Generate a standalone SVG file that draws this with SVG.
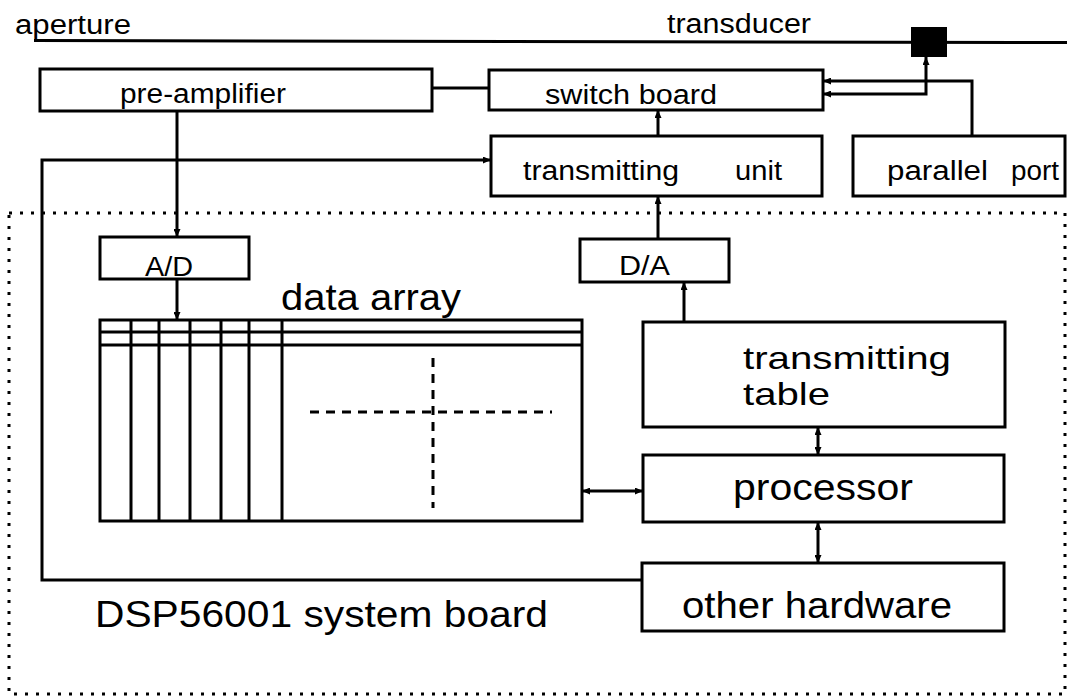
<svg xmlns="http://www.w3.org/2000/svg" width="1068" height="697" viewBox="0 0 1068 697">
<style>
.box{fill:none;stroke:#000;stroke-width:3}
.ln{fill:none;stroke:#000;stroke-width:3}
.dash{fill:none;stroke:#000;stroke-width:3;stroke-dasharray:9 7}
.dot{fill:none;stroke:#000;stroke-width:3;stroke-dasharray:3 8}
.s{font-family:"Liberation Sans",Arial,Helvetica,sans-serif;font-size:27px;fill:#000}
.b{font-family:"Liberation Sans",Arial,Helvetica,sans-serif;font-size:37px;fill:#000}
.t{font-family:"Liberation Sans",Arial,Helvetica,sans-serif;font-size:32px;fill:#000}
</style>
<defs>
<marker id="ah" viewBox="0 0 8 7" refX="8" refY="3.5" markerWidth="8" markerHeight="7" markerUnits="userSpaceOnUse" orient="auto-start-reverse">
<path d="M0,0 L8,3.5 L0,7 z" fill="#000"/>
</marker>
</defs>
<rect width="1068" height="697" fill="#fff"/>

<g id="transducer-line">
<line class="ln" x1="34" y1="40.5" x2="1067" y2="42.5"/>
<rect x="911" y="27" width="36" height="30" fill="#000"/>
<text class="s" x="15" y="34" textLength="116" lengthAdjust="spacingAndGlyphs">aperture</text>
<text class="s" x="667" y="33" textLength="144" lengthAdjust="spacingAndGlyphs">transducer</text>
</g>

<g id="board-border">
<rect class="dot" x="9" y="213" width="1056" height="481"/>
<text class="b" x="95" y="627" textLength="453" lengthAdjust="spacingAndGlyphs">DSP56001 system board</text>
</g>

<g id="pre-amplifier">
<rect class="box" x="40" y="69" width="392" height="42"/>
<text class="s" x="120" y="103" textLength="166" lengthAdjust="spacingAndGlyphs">pre-amplifier</text>
</g>

<g id="switch-board">
<rect class="box" x="489" y="70" width="334" height="40"/>
<text class="s" x="545" y="104" textLength="172" lengthAdjust="spacingAndGlyphs">switch board</text>
</g>

<g id="transmitting-unit">
<rect class="box" x="491" y="136" width="331" height="60"/>
<text class="s" x="523" y="180" textLength="156" lengthAdjust="spacingAndGlyphs">transmitting</text>
<text class="s" x="735" y="180" textLength="47" lengthAdjust="spacingAndGlyphs">unit</text>
</g>

<g id="parallel-port">
<rect class="box" x="853" y="136" width="212" height="60"/>
<text class="s" x="887" y="180" textLength="101" lengthAdjust="spacingAndGlyphs">parallel</text>
<text class="s" x="1011" y="180" textLength="48" lengthAdjust="spacingAndGlyphs">port</text>
</g>

<g id="ad">
<rect class="box" x="100" y="237" width="149" height="42"/>
<text class="s" x="145" y="276" textLength="48" lengthAdjust="spacingAndGlyphs">A/D</text>
</g>

<g id="da">
<rect class="box" x="580" y="239" width="149" height="43"/>
<text class="s" x="619" y="275" textLength="51" lengthAdjust="spacingAndGlyphs">D/A</text>
</g>

<g id="data-array">
<text class="b" x="281" y="310" textLength="180" lengthAdjust="spacingAndGlyphs">data array</text>
<rect class="box" x="100" y="320" width="482" height="201"/>
<line class="ln" x1="100" y1="332" x2="582" y2="332"/>
<line class="ln" x1="100" y1="345" x2="582" y2="345"/>
<path class="ln" d="M131,320V521M159,320V521M190,320V521M221,320V521M249,320V521M282,320V521"/>
<line class="dash" x1="310" y1="412" x2="552" y2="412"/>
<line class="dash" x1="433" y1="358" x2="433" y2="508"/>
</g>

<g id="transmitting-table">
<rect class="box" x="643" y="322" width="362" height="105"/>
<text class="t" x="743" y="369" textLength="208" lengthAdjust="spacingAndGlyphs">transmitting</text>
<text class="t" x="743" y="405" textLength="87" lengthAdjust="spacingAndGlyphs">table</text>
</g>

<g id="processor">
<rect class="box" x="643" y="455" width="361" height="67"/>
<text class="b" x="733" y="500" textLength="180" lengthAdjust="spacingAndGlyphs">processor</text>
</g>

<g id="other-hardware">
<rect class="box" x="642" y="563" width="362" height="68"/>
<text class="b" x="682" y="618" textLength="270" lengthAdjust="spacingAndGlyphs">other hardware</text>
</g>

<g id="connectors">
<line class="ln" x1="432" y1="88" x2="489" y2="88"/>
<line class="ln" x1="177" y1="111" x2="177" y2="237" marker-end="url(#ah)"/>
<line class="ln" x1="177" y1="279" x2="177" y2="320" marker-end="url(#ah)"/>
<line class="ln" x1="658" y1="136" x2="658" y2="110" marker-end="url(#ah)"/>
<line class="ln" x1="658" y1="239" x2="658" y2="196" marker-end="url(#ah)"/>
<line class="ln" x1="684" y1="322" x2="684" y2="282" marker-end="url(#ah)"/>
<path class="ln" d="M972,136V81H823" marker-end="url(#ah)"/>
<path class="ln" d="M823,94H926V57" marker-start="url(#ah)" marker-end="url(#ah)"/>
<path class="ln" d="M642,580H42V160H491" marker-end="url(#ah)"/>
<line class="ln" x1="582" y1="491" x2="643" y2="491" marker-start="url(#ah)" marker-end="url(#ah)"/>
<line class="ln" x1="818" y1="427" x2="818" y2="455" marker-start="url(#ah)" marker-end="url(#ah)"/>
<line class="ln" x1="818" y1="522" x2="818" y2="563" marker-start="url(#ah)" marker-end="url(#ah)"/>
</g>
</svg>
